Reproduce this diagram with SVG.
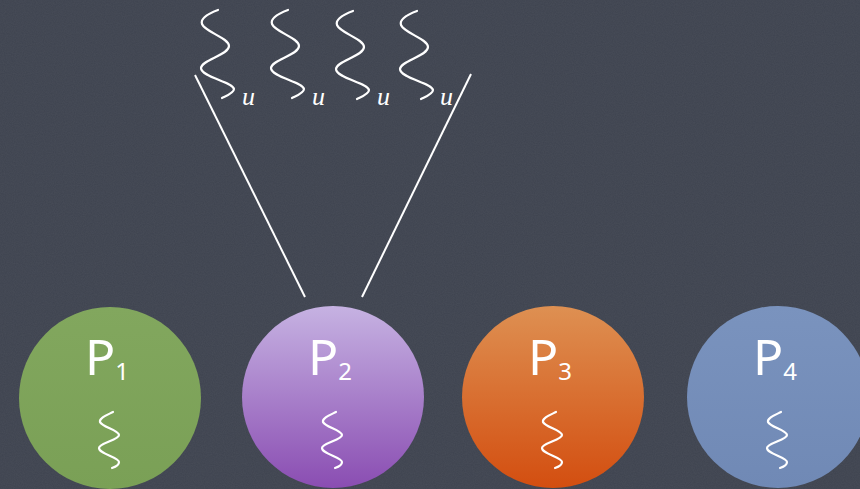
<svg xmlns="http://www.w3.org/2000/svg" width="860" height="489" viewBox="0 0 860 489">
  <defs>
    <style>
      .wave { fill: none; stroke: #ffffff; stroke-width: 2.2; stroke-linecap: round; stroke-linejoin: round; }
      .conn { stroke: #ffffff; stroke-width: 2; fill: none; }
      .plabel { font-family: "Noto Sans", "DejaVu Sans", sans-serif; font-size: 50px; fill: #ffffff; }
      .sub { font-size: 24px; }
      .u { font-family: "Liberation Serif", "DejaVu Serif", serif; font-style: italic; font-size: 26px; fill: #ffffff; }
    </style>
    <linearGradient id="gGreen" x1="0" y1="0" x2="0" y2="1">
      <stop offset="0" stop-color="#82a75e"/>
      <stop offset="1" stop-color="#7aa056"/>
    </linearGradient>
    <linearGradient id="gPurple" x1="0" y1="0" x2="0" y2="1">
      <stop offset="0" stop-color="#c6b2e2"/>
      <stop offset="1" stop-color="#8a4db2"/>
    </linearGradient>
    <linearGradient id="gOrange" x1="0" y1="0" x2="0" y2="1">
      <stop offset="0" stop-color="#de9052"/>
      <stop offset="1" stop-color="#d34e10"/>
    </linearGradient>
    <linearGradient id="gBlue" x1="0" y1="0" x2="0" y2="1">
      <stop offset="0" stop-color="#7a93be"/>
      <stop offset="1" stop-color="#7089b5"/>
    </linearGradient>
    <filter id="noise" x="0" y="0" width="100%" height="100%">
      <feTurbulence type="fractalNoise" baseFrequency="0.9" numOctaves="2" seed="3" result="n"/>
      <feColorMatrix type="matrix" values="0 0 0 0 1  0 0 0 0 1  0 0 0 0 1  0 0 0 0.05 0"/>
    </filter>
    <path id="bigWave" d="M 28 10 C 20 13, 10 18, 12 24 C 15 32, 39 38, 39 46 C 39 55, 11 60, 11 68 C 11 77, 43 82, 44 89 C 44 93, 36 96, 32 98"/>
    <path id="smallWave" d="M 3 -12 C -3 -9, -11 -6, -10 -2 C -8 3, 9 6, 9 11 C 9 16, -11 19, -11 24 C -11 30, 9 33, 9 38 C 9 41, 5 43, 2 44"/>
  </defs>

  <rect width="860" height="489" fill="#3e434f"/>
  <rect width="860" height="489" filter="url(#noise)"/>

  <g id="connectors">
    <line class="conn" x1="195" y1="75" x2="305" y2="297"/>
    <line class="conn" x1="471" y1="74" x2="362" y2="297"/>
  </g>

  <g id="threads">
    <g transform="translate(190,0)"><use href="#bigWave" class="wave"/></g>
    <text class="u" x="242" y="105">u</text>
    <g transform="translate(260,0)"><use href="#bigWave" class="wave"/></g>
    <text class="u" x="312" y="105">u</text>
    <g transform="translate(325,1)"><use href="#bigWave" class="wave"/></g>
    <text class="u" x="377" y="105">u</text>
    <g transform="translate(389,1)"><use href="#bigWave" class="wave"/></g>
    <text class="u" x="440" y="105">u</text>
  </g>

  <g id="P1">
    <circle cx="110" cy="398" r="91" fill="url(#gGreen)"/>
    <text class="plabel" x="85" y="375">P<tspan class="sub" dy="5">1</tspan></text>
    <use href="#smallWave" class="wave" transform="translate(110,424)"/>
  </g>
  <g id="P2">
    <circle cx="333" cy="397" r="91" fill="url(#gPurple)"/>
    <text class="plabel" x="308" y="375">P<tspan class="sub" dy="5">2</tspan></text>
    <use href="#smallWave" class="wave" transform="translate(333,424)"/>
  </g>
  <g id="P3">
    <circle cx="553" cy="397" r="91" fill="url(#gOrange)"/>
    <text class="plabel" x="528" y="375">P<tspan class="sub" dy="5">3</tspan></text>
    <use href="#smallWave" class="wave" transform="translate(553,424)"/>
  </g>
  <g id="P4">
    <circle cx="778" cy="397" r="91" fill="url(#gBlue)"/>
    <text class="plabel" x="753" y="375">P<tspan class="sub" dy="5">4</tspan></text>
    <use href="#smallWave" class="wave" transform="translate(778,424)"/>
  </g>
</svg>
